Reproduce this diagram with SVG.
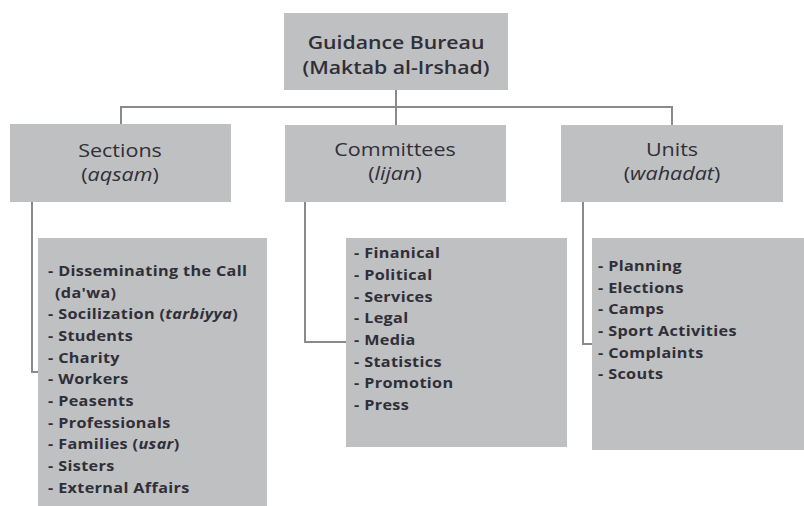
<svg xmlns="http://www.w3.org/2000/svg" width="804" height="506" viewBox="0 0 804 506">
<style>
.box{fill:#bfc0c2;}
.hd{font-family:"Open Sans","Liberation Sans",sans-serif;font-size:17.5px;fill:#302f38;text-anchor:middle;}
.top{font-size:18px;font-weight:600;}
.li{font-family:"Open Sans","Liberation Sans",sans-serif;font-size:13.5px;font-weight:700;fill:#302f38;letter-spacing:0.3px;}
.con{fill:none;stroke:#8a8a8a;stroke-width:2;}
</style>
<rect width="804" height="506" fill="#ffffff"/>
<g id="connectors">
<path class="con" d="M396 90 V107 M121 124 V107 H672 V125 M396 107 V125"/>
<path class="con" d="M32 202 V372 H38"/>
<path class="con" d="M305 202 V342 H346"/>
<path class="con" d="M583 202 V344 H592"/>
</g>
<g id="guidance-bureau">
<rect class="box" x="284" y="13" width="224" height="77"/>
<text class="hd top" transform="translate(396 49) scale(1.18 1)">Guidance Bureau</text>
<text class="hd top" transform="translate(396 74) scale(1.18 1)">(Maktab al-Irshad)</text>
</g>
<g id="sections">
<rect class="box" x="10" y="124" width="221" height="78"/>
<text class="hd" transform="translate(120 157) scale(1.23 1)">Sections</text>
<text class="hd" transform="translate(120 181) scale(1.23 1)">(<tspan font-style="italic">aqsam</tspan>)</text>
</g>
<g id="committees">
<rect class="box" x="285" y="125" width="221" height="77"/>
<text class="hd" transform="translate(395 156) scale(1.23 1)">Committees</text>
<text class="hd" transform="translate(395 180) scale(1.23 1)">(<tspan font-style="italic">lijan</tspan>)</text>
</g>
<g id="units">
<rect class="box" x="561" y="125" width="222" height="77"/>
<text class="hd" transform="translate(672 156) scale(1.23 1)">Units</text>
<text class="hd" transform="translate(672 180) scale(1.23 1)">(<tspan font-style="italic">wahadat</tspan>)</text>
</g>
<g id="sections-list">
<rect class="box" x="38" y="238" width="229" height="270"/>
<g transform="translate(48 0) scale(1.2 1)">
<text class="li" x="0" y="276">- Disseminating the Call</text>
<text class="li" x="5.8" y="298">(da'wa)</text>
<text class="li" x="0" y="319">- Socilization (<tspan font-style="italic">tarbiyya</tspan>)</text>
<text class="li" x="0" y="341">- Students</text>
<text class="li" x="0" y="363">- Charity</text>
<text class="li" x="0" y="384">- Workers</text>
<text class="li" x="0" y="406">- Peasents</text>
<text class="li" x="0" y="428">- Professionals</text>
<text class="li" x="0" y="449">- Families (<tspan font-style="italic">usar</tspan>)</text>
<text class="li" x="0" y="471">- Sisters</text>
<text class="li" x="0" y="493">- External Affairs</text>
</g>
</g>
<g id="committees-list">
<rect class="box" x="346" y="238" width="221" height="209"/>
<g transform="translate(354 0) scale(1.2 1)">
<text class="li" x="0" y="258">- Finanical</text>
<text class="li" x="0" y="280">- Political</text>
<text class="li" x="0" y="302">- Services</text>
<text class="li" x="0" y="323">- Legal</text>
<text class="li" x="0" y="345">- Media</text>
<text class="li" x="0" y="367">- Statistics</text>
<text class="li" x="0" y="388">- Promotion</text>
<text class="li" x="0" y="410">- Press</text>
</g>
</g>
<g id="units-list">
<rect class="box" x="592" y="238" width="214" height="212"/>
<g transform="translate(598 0) scale(1.2 1)">
<text class="li" x="0" y="271">- Planning</text>
<text class="li" x="0" y="293">- Elections</text>
<text class="li" x="0" y="314">- Camps</text>
<text class="li" x="0" y="336">- Sport Activities</text>
<text class="li" x="0" y="358">- Complaints</text>
<text class="li" x="0" y="379">- Scouts</text>
</g>
</g>
</svg>
